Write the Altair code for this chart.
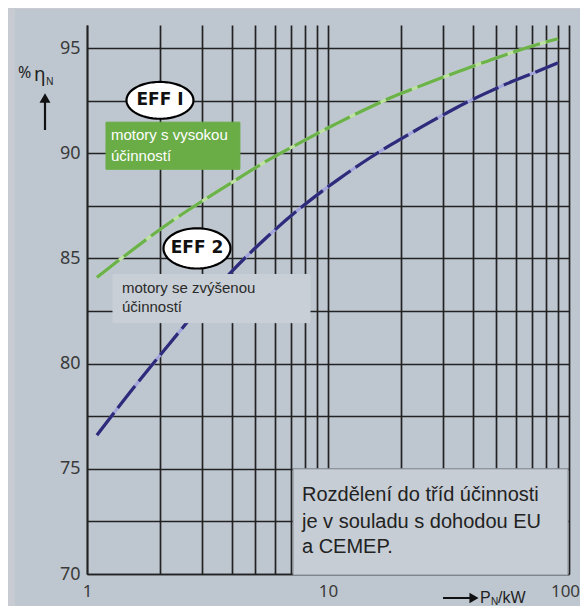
import math
import altair as alt
import pandas as pd

# ---------------- data ----------------
kw = [1.1, 1.5, 2.2, 3, 4, 5.5, 7.5, 11, 15, 18.5, 22, 30, 37, 45, 55, 75, 90]
eff1 = [84.1, 85.3, 86.7, 87.72, 88.62, 89.6, 90.45, 91.45, 92.2, 92.68, 93.02,
        93.62, 94.0, 94.35, 94.7, 95.2, 95.45]
eff2 = [76.6, 78.6, 80.95, 82.8, 84.4, 85.95, 87.3, 88.75, 89.8, 90.45, 90.95,
        91.82, 92.38, 92.85, 93.3, 93.92, 94.3]
x_ticks = [1, 2, 3, 4, 5, 6, 7, 8, 9, 10, 20, 30, 40, 50, 60, 70, 80, 90, 100]
x_labels = [1, 10, 100]
y_ticks = [70, 72.5, 75, 77.5, 80, 82.5, 85, 87.5, 90, 92.5, 95]

curves = pd.DataFrame(
    {"kW": kw * 2, "eta": eff1 + eff2, "cls": ["EFF1"] * len(kw) + ["EFF2"] * len(kw)}
)

# ---------------- styles ----------------
INNER = "#bec7d0"
OUTER = "#c8ccd2"
GRID = "#222222"
FONT = "Liberation Sans"

xscale = alt.Scale(type="log", domain=[1, 100], nice=False)
yscale = alt.Scale(domain=[70, 96.1], nice=False, zero=False)

xaxis = alt.Axis(values=x_ticks, grid=True, gridColor=GRID, gridWidth=1.7, gridOpacity=1,
                 ticks=False, domain=True, domainColor=GRID, domainWidth=1.7,
                 labelExpr="indexof([1,10,100], datum.value) >= 0 ? datum.label : ''",
                 format="d", labelFont="Noto Sans", labelFontSize=17, labelColor="#3a3a3a",
                 labelPadding=9, labelFlush=False, labelOverlap=False,
                 labelOffset={"condition": {"test": "datum.value == 100", "value": -4}, "value": 0},
                 title=None)
yaxis = alt.Axis(values=y_ticks, grid=True, gridColor=GRID, gridWidth=1.7, gridOpacity=1,
                 ticks=False, domain=True, domainColor=GRID, domainWidth=1.7,
                 labelExpr="datum.value % 5 == 0 ? datum.label : ''",
                 format="d", labelFont="Noto Sans", labelFontSize=18, labelColor="#3a3a3a",
                 labelPadding=7, labelOverlap=False, title=None)


def X(f):
    return alt.X(f, type="quantitative", scale=xscale, axis=xaxis)


def Y(f):
    return alt.Y(f, type="quantitative", scale=yscale, axis=yaxis)


base = alt.Chart(curves)


def curve(cls, light_col, dark_col):
    sel = base.transform_filter(alt.datum.cls == cls)
    lo = sel.mark_line(strokeWidth=3.2, interpolate="monotone", color=light_col).encode(
        x=X("kW"), y=Y("eta"))
    hi = sel.mark_line(strokeWidth=3.2, interpolate="monotone", color=dark_col,
                       strokeDash=[28, 6]).encode(x=X("kW"), y=Y("eta"))
    return [lo, hi]


lines = curve("EFF1", "#bde39e", "#6cb24a") + curve("EFF2", "#a3a6dc", "#2e2b7a")

# annotation boxes
boxes = pd.DataFrame({
    "x1": [1.199, 1.282, 7.16],
    "x2": [4.31, 8.42, 99.1],
    "y1": [89.24, 81.95, 69.95],
    "y2": [91.48, 84.24, 75.0],
    "b": ["green", "grey", "note"],
})
box_layer = alt.Chart(boxes).mark_rect().encode(
    x=X("x1"), x2="x2", y=Y("y1"), y2="y2",
    fill=alt.Fill("b:N", scale=alt.Scale(domain=["green", "grey", "note"],
                                         range=["#6aac46", "#c8cfd6", "#c6cdd4"]), legend=None),
    stroke=alt.Stroke("b:N", scale=alt.Scale(domain=["green", "grey", "note"],
                                             range=["#6aac46", "#c8cfd6", "#868d94"]), legend=None),
)


# badges
def ellipse(ry, n=60):
    pts = []
    for i in range(n):
        a = 2 * math.pi * i / n
        pts.append(f"{math.cos(a):.4f},{ry * math.sin(a):.4f}")
    return "M" + " L".join(pts) + " Z"


badge1 = pd.DataFrame({"x": [2.008], "y": [92.52], "t": ["EFF I"]})
badge2 = pd.DataFrame({"x": [2.86], "y": [85.48], "t": ["EFF 2"]})
b1 = alt.Chart(badge1).mark_point(shape=ellipse(0.55), size=67 * 67, filled=True,
                                  fill="white", stroke="black", strokeWidth=2.2, opacity=1).encode(
    x=X("x"), y=Y("y"))
b2 = alt.Chart(badge2).mark_point(shape=ellipse(0.6), size=67 * 67, filled=True,
                                  fill="white", stroke="black", strokeWidth=2.2, opacity=1).encode(
    x=X("x"), y=Y("y"))
bt1 = alt.Chart(badge1).mark_text(font="DejaVu Sans", fontWeight="bold", fontSize=17,
                                  color="#111111", baseline="middle", align="center").encode(
    x=X("x"), y=Y("y"), text="t")
bt2 = alt.Chart(badge2).mark_text(font="DejaVu Sans", fontWeight="bold", fontSize=17,
                                  color="#111111", baseline="middle", align="center").encode(
    x=X("x"), y=Y("y"), text="t")

# box texts
green_txt = pd.DataFrame({"x": [1.258, 1.258], "y": [90.86, 89.86],
                          "t": ["motory s vysokou", "účinností"]})
grey_txt = pd.DataFrame({"x": [1.397, 1.397], "y": [83.62, 82.71],
                         "t": ["motory se zvýšenou", "účinností"]})
note_txt = pd.DataFrame({"x": [7.80, 7.80, 7.80], "y": [73.76, 72.48, 71.29],
                         "t": ["Rozdělení do tříd účinnosti", "je v souladu s dohodou EU",
                               "a CEMEP."]})
gt = alt.Chart(green_txt).mark_text(font=FONT, fontSize=15, color="white", align="left",
                                    baseline="middle").encode(x=X("x"), y=Y("y"), text="t")
grt = alt.Chart(grey_txt).mark_text(font=FONT, fontSize=15, color="#2a2a2a", align="left",
                                    baseline="middle").encode(x=X("x"), y=Y("y"), text="t")
nt = alt.Chart(note_txt).mark_text(font=FONT, fontSize=20, color="#222222", align="left",
                                   baseline="middle").encode(x=X("x"), y=Y("y"), text="t")

# outer border strips (page frame)
one = pd.DataFrame({"a": [0]})
strip_left = alt.Chart(one).mark_rect(color=OUTER).encode(
    x=alt.value(-80), x2=alt.value(-72), y=alt.value(-20), y2=alt.value(600))
strip_top = alt.Chart(one).mark_rect(color=OUTER).encode(
    x=alt.value(-80), x2=alt.value(520), y=alt.value(-20), y2=alt.value(-16))

# axis titles
ytitle = alt.Chart(one).mark_text(font="Noto Sans", fontSize=16, color="#222222", align="left",
                                  baseline="middle").encode(
    x=alt.value(-69), y=alt.value(48), text=alt.value("%"))
ytitle2 = alt.Chart(one).mark_text(font="Noto Sans", fontSize=19, color="#222222", align="left",
                                   baseline="middle").encode(
    x=alt.value(-53), y=alt.value(50), text=alt.value("η"))
ysub = alt.Chart(one).mark_text(font="Noto Sans", fontSize=10, color="#222222", align="left",
                                baseline="middle").encode(
    x=alt.value(-41), y=alt.value(57), text=alt.value("N"))
yarrow = alt.Chart(one).mark_rule(color="#111111", strokeWidth=2.2).encode(
    x=alt.value(-42), y=alt.value(76), y2=alt.value(105))
yhead = alt.Chart(one).mark_point(shape="triangle-up", size=120, filled=True, color="#111111",
                                  opacity=1).encode(x=alt.value(-42), y=alt.value(73))

xarrow = alt.Chart(one).mark_rule(color="#111111", strokeWidth=2).encode(
    x=alt.value(356), x2=alt.value(384), y=alt.value(573))
xhead = alt.Chart(one).mark_point(shape="triangle-right", size=110, filled=True, color="#111111",
                                  opacity=1).encode(x=alt.value(387), y=alt.value(573))
xtitle = alt.Chart(one).mark_text(font=FONT, fontSize=16, color="#222222", align="left",
                                  baseline="middle").encode(
    x=alt.value(393), y=alt.value(573), text=alt.value("P"))
xsub = alt.Chart(one).mark_text(font=FONT, fontSize=10, color="#222222", align="left",
                                baseline="middle").encode(
    x=alt.value(404), y=alt.value(577), text=alt.value("N"))
xtitle2 = alt.Chart(one).mark_text(font=FONT, fontSize=16, color="#222222", align="left",
                                   baseline="middle").encode(
    x=alt.value(411), y=alt.value(573), text=alt.value("/kW"))

chart = alt.layer(
    *lines, box_layer, b1, b2, bt1, bt2, gt, grt, nt,
    strip_left, strip_top, ytitle, ytitle2, ysub, yarrow, yhead,
    xarrow, xhead, xtitle, xsub, xtitle2,
).properties(
    width=482, height=549,
    autosize=alt.AutoSizeParams(type="none"),
    padding={"left": 79, "top": 17, "right": 11, "bottom": 32},
    background=INNER,
).configure_view(stroke=None)

chart.save("out.html", embed_options={"renderer": "svg", "actions": False})
